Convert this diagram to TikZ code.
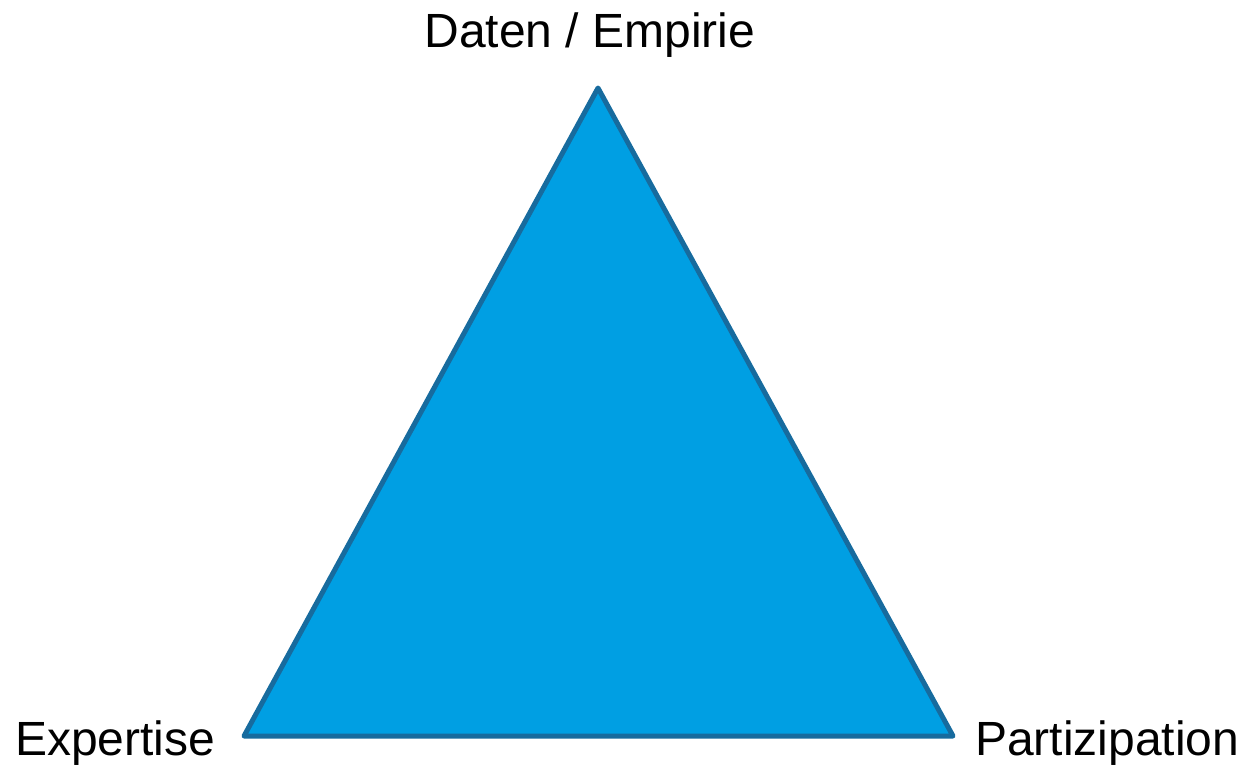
\documentclass[tikz,border=0pt]{standalone}
\usepackage{fontspec}
\setmainfont{Liberation Sans}
\definecolor{triFill}{HTML}{009FE3}
\definecolor{triEdge}{HTML}{176B9E}
\usetikzlibrary{positioning}

\begin{document}
\begin{tikzpicture}[
  x=1pt, y=-1pt,
  tri/.style={fill=triFill, draw=triEdge, line width=5pt, line join=round},
  lbl/.style={font=\fontsize{48}{57}\selectfont, inner sep=0pt}
]
  \useasboundingbox (0,0) rectangle (1243,764);
  % corners of the triangle
  \coordinate (top) at (598,88);
  \coordinate (left) at (244,736);
  \coordinate (right) at (953,736);
  \draw[tri] (top) -- (left) -- (right) -- cycle;

  \node[lbl, anchor=base] (daten) at (590,47) {Daten / Empirie};
  \node[lbl, anchor=base west] (expert) at (15,755) {Expertise};
  \node[lbl, anchor=base west] (partiz) at (975,755) {Partizipation};
\end{tikzpicture}
\end{document}
